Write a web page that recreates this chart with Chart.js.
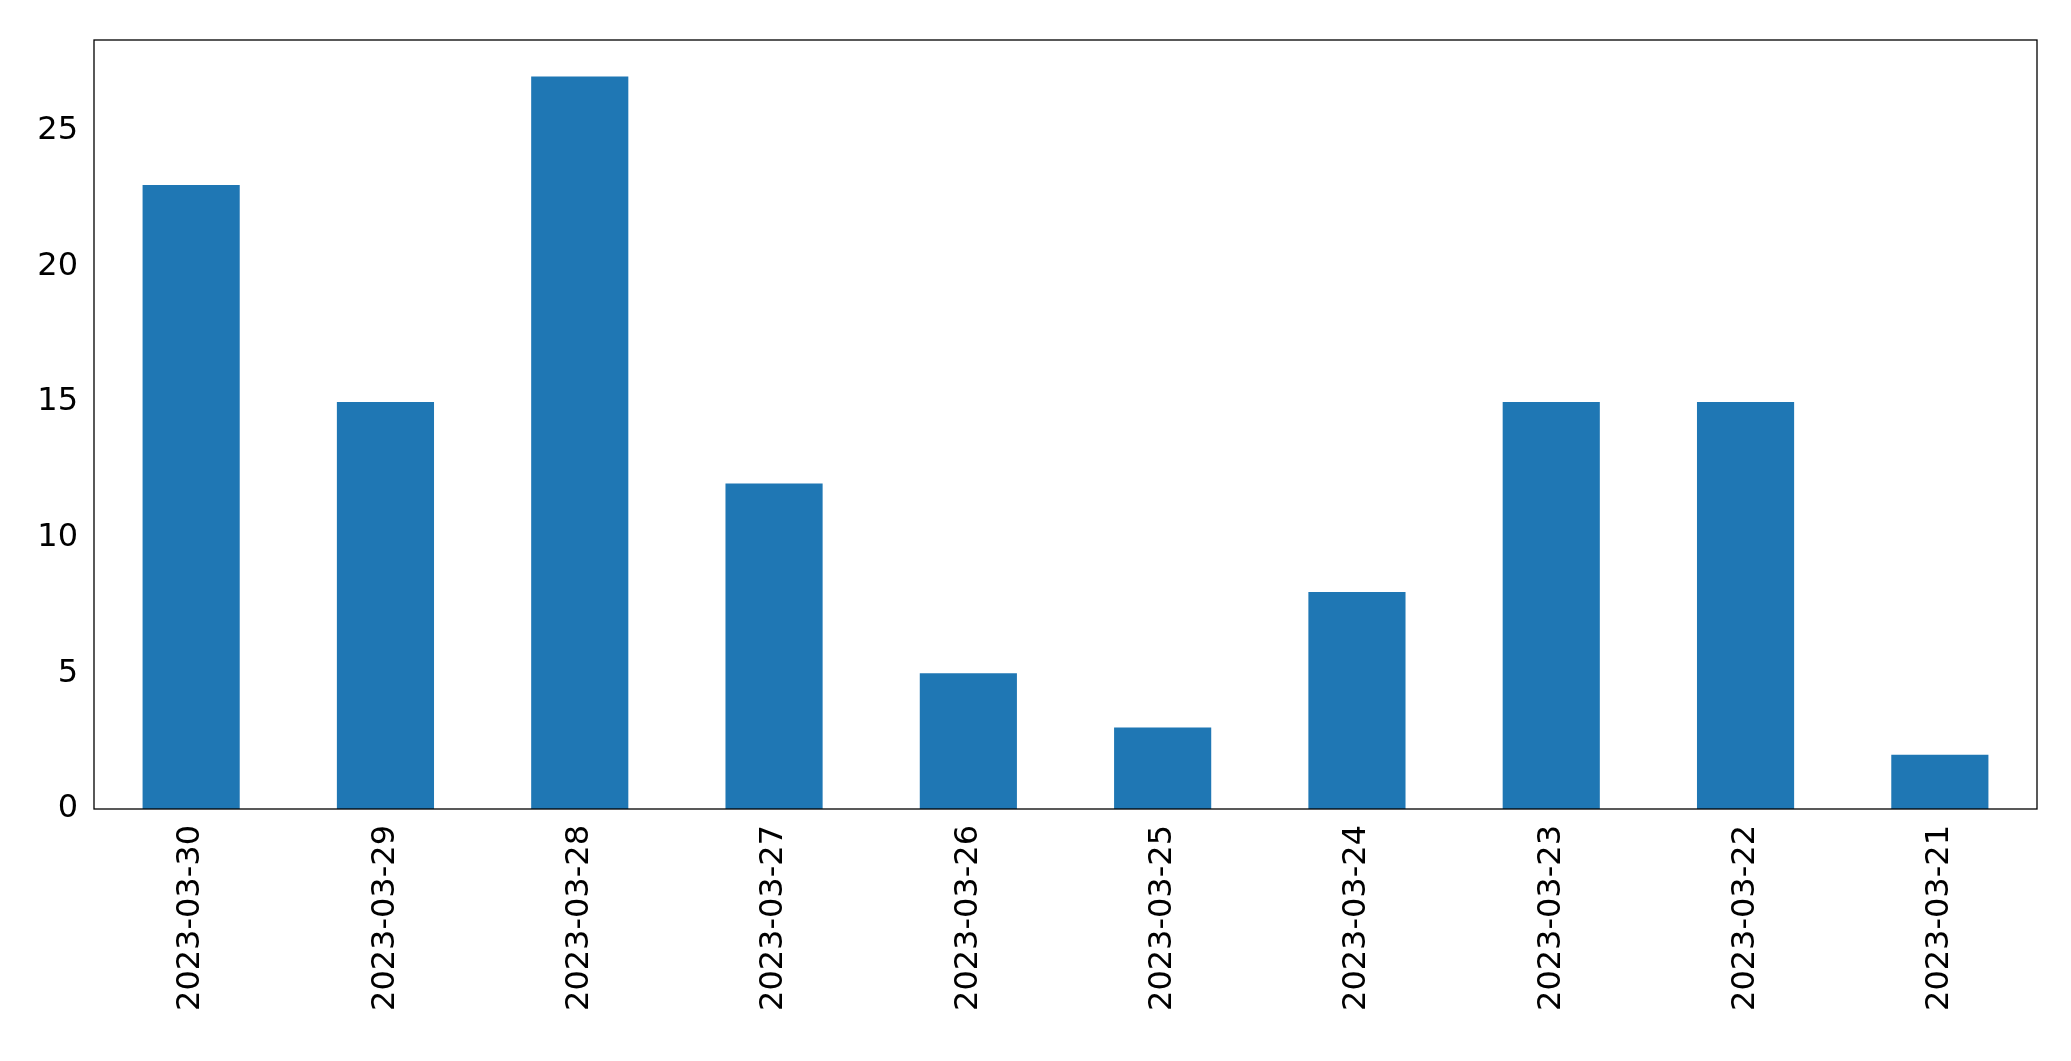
<!DOCTYPE html><html><head><style>body{margin:0;background:#fff}canvas{display:block}</style>
<script src="https://cdn.jsdelivr.net/npm/chart.js@4"></script></head><body>
<div style="width:2071px;height:1061px"><canvas id="c" width="2071" height="1061"></canvas></div>
<script>
const categories=["2023-03-30","2023-03-29","2023-03-28","2023-03-27","2023-03-26","2023-03-25","2023-03-24","2023-03-23","2023-03-22","2023-03-21"];
const values=[23,15,27,12,5,3,8,15,15,2];
const yTicks=[0,5,10,15,20,25];
const frame={id:'frame',afterDraw(c){const a=c.chartArea,x=c.ctx;x.save();x.strokeStyle='#000';x.lineWidth=1.3;x.strokeRect(a.left,a.top,a.right-a.left,a.bottom-a.top);x.restore();}};
new Chart(document.getElementById('c'),{type:'bar',data:{labels:categories,datasets:[{data:values,backgroundColor:'#1f77b4',barPercentage:0.5,categoryPercentage:1}]},
options:{responsive:false,animation:false,devicePixelRatio:1,layout:{padding:{top:40,right:34,left:0,bottom:0}},
plugins:{legend:{display:false},tooltip:{enabled:false}},
scales:{x:{afterFit(s){s.height=252},grid:{display:false,drawTicks:true,tickLength:10,tickColor:'#000'},border:{display:false},
ticks:{color:'#000',font:{family:'DejaVu Sans',size:32},maxRotation:90,minRotation:90,padding:6}},
y:{min:0,max:28.35,afterFit(s){s.width=94},afterBuildTicks(s){s.ticks=yTicks.map(v=>({value:v}))},grid:{display:false,drawTicks:true,tickLength:10,tickColor:'#000'},border:{display:false},
ticks:{color:'#000',font:{family:'DejaVu Sans',size:32},padding:6}}}},plugins:[frame]});
</script></body></html>
